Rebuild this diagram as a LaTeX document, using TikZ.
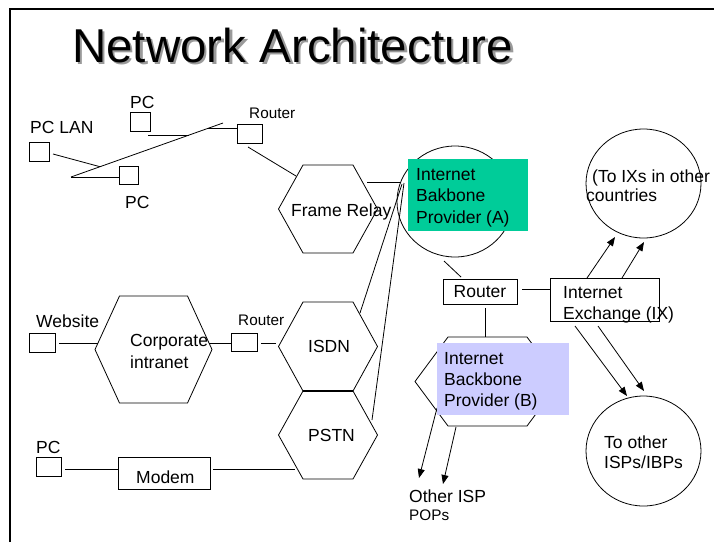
\documentclass[tikz,border=0pt]{standalone}
\usepackage{fontspec}
\setmainfont{Liberation Sans}
\usetikzlibrary{arrows.meta,shapes.geometric}
\definecolor{ibpgreen}{HTML}{00CC99}
\definecolor{ibplilac}{HTML}{CCCCFF}
\definecolor{titleshadow}{HTML}{9A9A9A}

% flat-topped hexagon: #1 name, #2 cx, #3 cy, #4 half width, #5 half top edge, #6 half height
\newcommand\hexagonat[6]{%
  \coordinate (#1) at (#2,#3);
  \draw[wire] (#2-#4,#3) -- (#2-#5,#3-#6) -- (#2+#5,#3-#6) -- (#2+#4,#3)
    -- (#2+#5,#3+#6) -- (#2-#5,#3+#6) -- cycle;}

% text with a grey drop shadow behind it
\newcommand\shadowed[1]{%
  \makebox[0pt][l]{\hspace{2.5pt}\raisebox{-2.5pt}{\textcolor{titleshadow}{#1}}}#1}

\begin{document}
\begin{tikzpicture}[x=1pt,y=-1pt,
  wire/.style={line width=0.8pt},
  arrowwire/.style={wire,-{Triangle[length=9pt,width=7pt]}},
  devbox/.style={draw,line width=0.8pt,inner sep=0},
  cloud/.style={draw,line width=0.8pt,ellipse,inner sep=0},
  lbl/.style={inner sep=0,anchor=base west,font=\fontsize{17.5}{21}\selectfont},
  smalllbl/.style={inner sep=0,anchor=base west,font=\fontsize{15.3}{18}\selectfont},
  multi/.style={inner sep=0,anchor=north west,align=left,font=\fontsize{17.5}{#1}\selectfont},
  titletext/.style={inner sep=0,anchor=base west,font=\fontsize{47.5}{52}\selectfont}]

\useasboundingbox (0,0) rectangle (714,542);

% slide frame
\draw[line width=2pt] (9.7,542) -- (9.7,9) -- (714,9);

% title
\node[titletext] (title) at (72,62) {\shadowed{Network Architecture}};

% ---------- office LAN ----------
\node[devbox,minimum width=20,minimum height=19] (pcLanBox) at (39,151.5) {};
\node[lbl] (pcLanLbl) at (30,133) {PC LAN};
\node[devbox,minimum width=20,minimum height=19] (pcTopBox) at (140,121.5) {};
\node[lbl] (pcTopLbl) at (130,108) {PC};
\node[devbox,minimum width=19,minimum height=18] (pcLowBox) at (128.5,175) {};
\node[lbl] (pcLowLbl) at (125,208) {PC};
\node[devbox,minimum width=25,minimum height=19] (routerTopBox) at (249.5,133.5) {};
\node[smalllbl] (routerTopLbl) at (249,118) {Router};

\coordinate (lanW) at (71,177);
\coordinate (lanE) at (223,123);
\coordinate (pcLanOut) at (53,154);
\coordinate (pcLanTap) at (100,166.7);
\coordinate (pcTopOut) at (148,135);
\coordinate (pcTopTap) at (189,135);
\coordinate (pcLowIn) at (119,177);
\coordinate (rtTopTap) at (207,128.5);
\coordinate (rtTopIn) at (237,128.5);
\coordinate (rtTopOut) at (248,147);
\coordinate (frIn) at (296,176);

\draw[wire] (lanW) -- (lanE);
\draw[wire] (pcLanOut) -- (pcLanTap);
\draw[wire] (pcTopOut) -- (pcTopTap);
\draw[wire] (lanW) -- (pcLowIn);
\draw[wire] (rtTopTap) -- (rtTopIn);
\draw[wire] (rtTopOut) -- (frIn);

% ---------- carrier networks ----------
\hexagonat{frameRelay}{328}{209}{49.5}{25}{44}
\hexagonat{isdn}{328}{346.5}{49.5}{25}{44.5}
\hexagonat{pstn}{328}{435}{49.5}{25}{44}
\draw[line width=1.6pt] (303,391) -- (353,391);
\node[lbl] (frameRelayLbl) at (291,216) {Frame Relay};
\node[lbl] (isdnLbl) at (308,352) {ISDN};
\node[lbl] (pstnLbl) at (308,441) {PSTN};

% ---------- corporate site ----------
\hexagonat{corpNet}{153.5}{349.5}{58.5}{34}{53.5}
\node[multi=22] (corpLbl) at (130,330.6) {\strut Corporate\\intranet};
\node[devbox,minimum width=26,minimum height=19] (webBox) at (42,342.5) {};
\node[lbl] (webLbl) at (36,327) {Website};
\node[devbox,minimum width=26,minimum height=18] (routerMidBox) at (244,342) {};
\node[smalllbl] (routerMidLbl) at (238,325) {Router};
\coordinate (webOut) at (59,343);
\coordinate (corpIn) at (98,343);
\coordinate (corpOut) at (209,343);
\coordinate (rtMidIn) at (231,343);
\coordinate (rtMidOut) at (261,343);
\coordinate (isdnIn) at (276,343);
\draw[wire] (webOut) -- (corpIn);
\draw[wire] (corpOut) -- (rtMidIn);
\draw[wire] (rtMidOut) -- (isdnIn);

% ---------- dial-up PC ----------
\node[devbox,minimum width=25,minimum height=19] (pcDialBox) at (48.5,466.5) {};
\node[lbl] (pcDialLbl) at (36,453) {PC};
\node[devbox,minimum width=92,minimum height=32] (modemBox) at (164,473) {};
\node[lbl] (modemLbl) at (136,483) {Modem};
\coordinate (pcDialOut) at (65,469);
\coordinate (modemIn) at (118,469);
\coordinate (modemOut) at (213,469);
\coordinate (pstnIn) at (295,469);
\draw[wire] (pcDialOut) -- (modemIn);
\draw[wire] (modemOut) -- (pstnIn);

% ---------- backbone A ----------
\node[cloud,minimum width=116,minimum height=111] (ibpA) at (455,201.5) {};
\coordinate (frOut) at (367,182);
\coordinate (ibpAfr) at (401,182);
\coordinate (isdnOut) at (360,313);
\coordinate (ibpAisdn) at (402,184);
\coordinate (pstnOut) at (372,420);
\coordinate (ibpApstn) at (404,183);
\draw[wire] (frOut) -- (ibpAfr);
\draw[wire] (isdnOut) -- (ibpAisdn);
\draw[wire] (pstnOut) -- (ibpApstn);

% ---------- core router and exchange ----------
\node[devbox,minimum width=74,minimum height=25,font=\fontsize{17.5}{21}\selectfont] (coreRouter) at (480,291.5) {Router};
\node[devbox,minimum width=109,minimum height=43] (ixBox) at (604.5,299.5) {};
\coordinate (ibpAout) at (444,261);
\coordinate (coreIn) at (461,277);
\coordinate (coreEast) at (522,289);
\coordinate (ixWest) at (550,289);
\coordinate (coreSouth) at (485,308);
\coordinate (ibpBtop) at (485,337);
\draw[wire] (ibpAout) -- (coreIn);
\draw[wire] (coreEast) -- (ixWest);
\draw[wire] (coreSouth) -- (ibpBtop);

% ---------- backbone B ----------
\hexagonat{ibpB}{487.5}{381.5}{72.5}{39.5}{44.5}
\coordinate (ibpBout1) at (437,408);
\coordinate (popIn1) at (419,478);
\coordinate (ibpBout2) at (456,427);
\coordinate (popIn2) at (443,484);
\draw[arrowwire] (ibpBout1) -- (popIn1);
\draw[arrowwire] (ibpBout2) -- (popIn2);
\node[lbl] (popLbl) at (409,502) {Other ISP};
\node[smalllbl] (popLbl2) at (409,520) {POPs};

% ---------- other exchanges and providers ----------
\node[cloud,minimum width=115,minimum height=109] (foreignIX) at (643.5,183.5) {};
\node[cloud,minimum width=115,minimum height=110] (otherISP) at (643.5,451) {};
\coordinate (ixUp1) at (587,278);
\coordinate (foreignIn1) at (615,237);
\coordinate (ixUp2) at (622,278);
\coordinate (foreignIn2) at (644,242);
\coordinate (ixDown1) at (575,326);
\coordinate (ispIn1) at (627,396);
\coordinate (ixDown2) at (598,326);
\coordinate (ispIn2) at (644,391);
\draw[arrowwire] (ixUp1) -- (foreignIn1);
\draw[arrowwire] (ixUp2) -- (foreignIn2);
\draw[arrowwire] (ixDown1) -- (ispIn1);
\draw[arrowwire] (ixDown2) -- (ispIn2);

% ---------- coloured provider labels ----------
\node[fill=ibpgreen,minimum width=120,minimum height=72,inner sep=0] (ibpAbox) at (468,195) {};
\node[multi=21.5] (ibpAlbl) at (416,164.9) {\strut Internet\\Bakbone\\Provider (A)};
\node[fill=ibplilac,minimum width=132,minimum height=72,inner sep=0] (ibpBbox) at (503,379) {};
\node[multi=21] (ibpBlbl) at (444,349.3) {\strut Internet\\Backbone\\Provider (B)};

\node[multi=21] (ixLbl) at (563,283.3) {\strut Internet\\Exchange (IX)};
\node[lbl] (foreignLbl1) at (592,182) {(To IXs in other};
\node[lbl] (foreignLbl2) at (586,201) {countries};
\node[multi=20] (ispLbl) at (604,434) {\strut To other\\ISPs/IBPs};
\end{tikzpicture}
\end{document}
